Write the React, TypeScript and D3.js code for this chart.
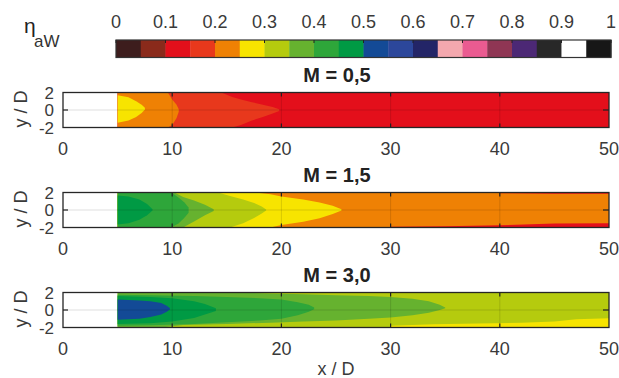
import React from "react";
import * as d3 from "d3";

// ---------- data ----------
const CB_COLORS = [
  "#3d1d1d", "#8a2a1b", "#e30f1b", "#e8381c", "#ef8104",
  "#f7e400", "#b5cb0e", "#66b22f", "#2ea63a", "#009a44",
  "#134a96", "#2c479b", "#232567", "#f4a8ae", "#ea5b91",
  "#8f3654", "#4c2875", "#282828", "#ffffff", "#171717",
];
const CB_TICKS = [0, 0.1, 0.2, 0.3, 0.4, 0.5, 0.6, 0.7, 0.8, 0.9, 1];
const CB_LABELS = ["0", "0.1", "0.2", "0.3", "0.4", "0.5", "0.6", "0.7", "0.8", "0.9", "1"];
const X_TICKS = [0, 10, 20, 30, 40, 50];
const Y_TICKS = [2, 0, -2];
const TITLES = ["M = 0,5", "M = 1,5", "M = 3,0"];
const BACKGROUND = ["#e30f1b", "#ef8104", "#b5cb0e"];
const DOMAIN_START = 5;

// bands: [x, yTop, yBottom] boundaries of each colour level
const M05_BANDS = [
  { color: "#e8381c", pts: [[5, 2, -2], [14.5, 2, -2], [15.5, 1.5, -2], [16.3, 1.2, -1.7], [17.3, 0.9, -1.2], [18.3, 0.6, -0.8], [19.2, 0.35, -0.4], [19.8, 0.1, -0.1]] },
  { color: "#ef8104", pts: [[5, 2, -2], [9.6, 2, -2], [10.0, 1.2, -1.7], [10.4, 0.6, -0.9], [10.6, 0.1, -0.2]] },
  { color: "#f7e400", pts: [[5, 1.7, -1.45], [6, 1.45, -1.2], [6.7, 1.0, -0.8], [7.2, 0.6, -0.35], [7.5, 0.25, 0.05]] },
];
const M15_BANDS = [
  { color: "#e30f1b", pts: [[30, -1.92, -2], [35, -1.85, -2], [40, -1.75, -2], [45, -1.55, -2], [50, -1.5, -2]] },
  { color: "#e30f1b", pts: [[40, 2, 1.92], [45, 2, 1.86], [50, 2, 1.86]] },
  { color: "#f7e400", pts: [[5, 2, -2], [17.6, 2, -2], [19, 1.8, -2], [20, 1.55, -1.7], [22, 1.2, -1.35], [23.5, 0.85, -0.95], [24.7, 0.5, -0.45], [25.5, 0.1, -0.05]] },
  { color: "#b5cb0e", pts: [[5, 2, -2], [14.2, 2, -2], [15.3, 1.6, -2], [16.5, 1.2, -1.5], [17.5, 0.8, -0.9], [18.2, 0.4, -0.4], [18.6, 0.05, -0.05]] },
  { color: "#66b22f", pts: [[5, 2, -2], [10.2, 2, -2], [11, 1.5, -2], [12, 1.1, -1.3], [13, 0.6, -0.6], [13.8, 0.1, -0.1]] },
  { color: "#2ea63a", pts: [[5, 2, -2], [10, 1.95, -1.95], [10.6, 1.4, -1.5], [11.1, 0.9, -0.9], [11.5, 0.3, -0.3]] },
  { color: "#009a44", pts: [[5, 1.65, -1.65], [6, 1.55, -1.5], [7, 1.2, -1.1], [7.7, 0.7, -0.6], [8.2, 0.1, -0.05]] },
];
const M30_BANDS = [
  { color: "#f7e400", pts: [[30, -1.8, -2], [34, -1.62, -2], [38, -1.55, -2], [42, -1.45, -2], [45, -1.3, -2], [47, -1.05, -2], [50, -0.95, -2]] },
  { color: "#66b22f", pts: [[5, 2, -2], [9, 2, -2], [11, 2, -1.7], [15, 2, -1.6], [19, 1.9, -1.45], [22, 1.8, -1.3], [25, 1.7, -1.2], [28, 1.6, -1.0], [30, 1.5, -0.85], [32, 1.3, -0.6], [33.5, 1.0, -0.3], [34.5, 0.6, 0.0], [35, 0.3, 0.2]] },
  { color: "#2ea63a", pts: [[5, 1.75, -1.8], [8, 1.7, -1.75], [12, 1.6, -1.6], [15, 1.5, -1.4], [18, 1.35, -1.2], [20, 1.2, -1.0], [21.5, 0.9, -0.6], [22.5, 0.6, -0.2], [23, 0.3, 0.1]] },
  { color: "#009a44", pts: [[5, 1.6, -1.6], [8, 1.5, -1.5], [10, 1.35, -1.3], [12, 1.0, -0.9], [13, 0.7, -0.5], [14, 0.2, -0.1]] },
  { color: "#134a96", pts: [[5, 1.2, -1.1], [7, 1.1, -1.0], [8, 1.0, -0.8], [9, 0.8, -0.5], [9.5, 0.5, -0.2], [9.8, 0.2, 0.1]] },
];
const PANEL_BANDS = [M05_BANDS, M15_BANDS, M30_BANDS];

// ---------- layout ----------
const W = 619, H = 378;
const PLOT_L = 63, PLOT_R = 609;
const PANEL_TOP = [92.5, 192.5, 292.5];
const PANEL_H = 35;
const CB_L = 116, CB_R = 611, CB_T = 40, CB_B = 57.5;
const FONT = "'Liberation Sans', Arial, Helvetica, sans-serif";
const TXT = "#3a3a3a";

export default function App() {
  const x = d3.scaleLinear().domain([0, 50]).range([PLOT_L, PLOT_R]);
  const cb = d3.scaleLinear().domain([0, 1]).range([CB_L, CB_R]);
  const segW = (CB_R - CB_L) / CB_COLORS.length;

  return (
    <svg width={W} height={H} style={{ position: "absolute", left: 0, top: 0 }} fontFamily={FONT}>
      <rect width={W} height={H} fill="#fff" />
      {/* colour bar */}
      <text x={24} y={33} fontSize={21} fill="#222">η</text>
      <text x={34} y={47} fontSize={17} fill="#333">aW</text>
      {CB_COLORS.map((c, i) => (
        <rect key={i} x={CB_L + i * segW} y={CB_T} width={segW + 0.4} height={CB_B - CB_T} fill={c} />
      ))}
      <rect x={CB_L} y={CB_T} width={CB_R - CB_L} height={CB_B - CB_T} fill="none" stroke="#333" strokeWidth={1.2} />
      {CB_TICKS.map((t, i) => (
        <g key={i}>
          <line x1={cb(t)} x2={cb(t)} y1={CB_T} y2={CB_T + 3} stroke="#222" strokeWidth={1} />
          <text x={cb(t)} y={27.5} fontSize={18} fill={TXT} textAnchor="middle">{CB_LABELS[i]}</text>
        </g>
      ))}

      {PANEL_BANDS.map((bands, pi) => {
        const top = PANEL_TOP[pi];
        const y = d3.scaleLinear().domain([-2, 2]).range([top + PANEL_H, top]);
        const area = d3
          .area<number[]>()
          .x((d) => x(d[0]))
          .y0((d) => y(d[2]))
          .y1((d) => y(d[1]));
        const clipId = `clip${pi}`;
        return (
          <g key={pi}>
            <defs>
              <clipPath id={clipId}>
                <rect x={x(0)} y={top} width={x(50) - x(0)} height={PANEL_H} />
              </clipPath>
            </defs>
            <text x={(x(0) + x(50)) / 2 + 1} y={top - 11} fontSize={20} fontWeight="bold" fill="#222" textAnchor="middle">
              {TITLES[pi]}
            </text>
            <g clipPath={`url(#${clipId})`}>
              <rect x={x(DOMAIN_START)} y={top} width={x(50) - x(DOMAIN_START)} height={PANEL_H} fill={BACKGROUND[pi]} />
              {bands.map((b, bi) => (
                <path key={bi} d={area(b.pts as number[][]) || ""} fill={b.color} />
              ))}
              {/* grid */}
              <line x1={x(0)} x2={x(50)} y1={y(0)} y2={y(0)} stroke="#000" strokeOpacity={0.13} strokeWidth={1} />
              {X_TICKS.slice(1, -1).map((t) => (
                <line key={t} x1={x(t)} x2={x(t)} y1={top} y2={top + PANEL_H} stroke="#000" strokeOpacity={0.12} strokeWidth={1} />
              ))}
            </g>
            {/* ticks */}
            {X_TICKS.slice(1, -1).map((t) => (
              <g key={t}>
                <line x1={x(t)} x2={x(t)} y1={top} y2={top + 4} stroke="#222" strokeWidth={1.2} />
                <line x1={x(t)} x2={x(t)} y1={top + PANEL_H} y2={top + PANEL_H - 4} stroke="#222" strokeWidth={1.2} />
              </g>
            ))}
            <line x1={x(0)} x2={x(0) + 5} y1={y(0)} y2={y(0)} stroke="#222" strokeWidth={1.2} />
            <line x1={x(50)} x2={x(50) - 6} y1={y(0)} y2={y(0)} stroke="#222" strokeWidth={1.2} />
            <rect x={x(0)} y={top} width={x(50) - x(0)} height={PANEL_H} fill="none" stroke="#262626" strokeWidth={1.3} />
            {Y_TICKS.map((t) => (
              <text key={t} x={54} y={y(t) + 6} fontSize={17} fill={TXT} textAnchor="end">{t}</text>
            ))}
            <text transform={`translate(27,${top + PANEL_H / 2 - 1}) rotate(-90)`} fontSize={18} fill={TXT} textAnchor="middle">y / D</text>
            {X_TICKS.map((t) => (
              <text key={t} x={x(t)} y={top + PANEL_H + 27.5} fontSize={18} fill={TXT} textAnchor="middle">{t}</text>
            ))}
          </g>
        );
      })}
      <text x={336} y={375} fontSize={18} fill={TXT} textAnchor="middle">x / D</text>
    </svg>
  );
}
